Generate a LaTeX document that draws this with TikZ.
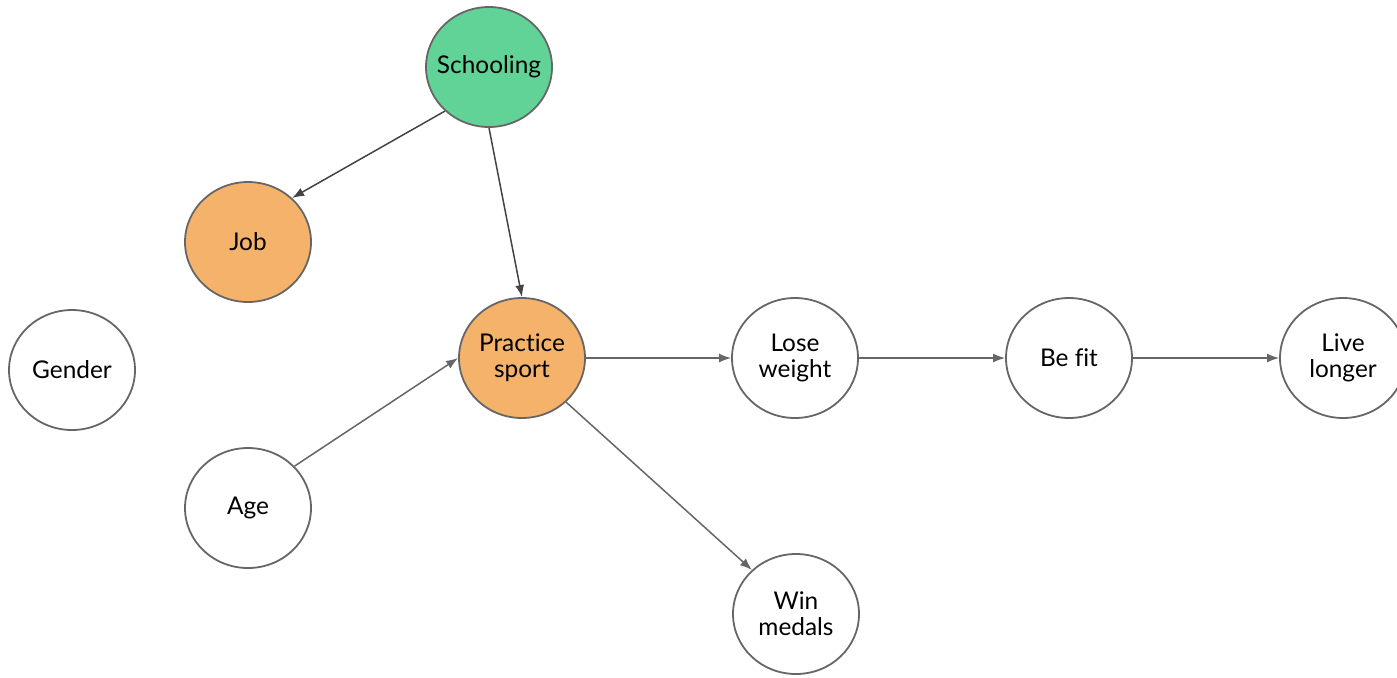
\documentclass[tikz,border=0pt]{standalone}
\usepackage{fontspec}
\setmainfont{Lato}[Ligatures={NoCommon}]
\usetikzlibrary{shapes.geometric,arrows.meta}
\definecolor{greenfill}{HTML}{62D396}
\definecolor{orangefill}{HTML}{F5B26B}
\definecolor{edgegray}{HTML}{666666}
\definecolor{darkline}{HTML}{444444}
\begin{document}
\begin{tikzpicture}[x=0.5pt,y=-0.5pt,
  var/.style={ellipse,draw=edgegray,line width=0.9pt,fill=white,
    minimum width=63pt,minimum height=60pt,inner xsep=-6pt,inner ysep=0pt,
    align=center,font=\fontsize{12.2}{13}\selectfont},
  link/.style={draw=edgegray,line width=0.75pt,-{Latex[length=6pt,width=4.5pt]}},
  darklink/.style={link,draw=darkline}]
  \useasboundingbox (0,0) rectangle (1397,677);
  % variables
  \node[var,fill=greenfill]  (school)  at (489,67)   {Schooling};
  \node[var,fill=orangefill] (job)     at (248,242)  {Job};
  \node[var]                 (gender)  at (72,370)   {Gender};
  \node[var,fill=orangefill] (sport)   at (522,358)  {Practice\\sport};
  \node[var]                 (age)     at (248,508)  {Age};
  \node[var]                 (weight)  at (795,358)  {Lose\\weight};
  \node[var]                 (fit)     at (1069,358) {Be fit};
  \node[var]                 (longer)  at (1343,358) {Live\\longer};
  \node[var]                 (medals)  at (796,614)  {Win\\medals};
  % causal links
  \draw[darklink] (school.225) -- (job.45);
  \draw[darklink] (school.south) -- (sport.north);
  \draw[link] (age.42) -- (sport.west);
  \draw[link] (sport.east) -- (weight.west);
  \draw[link] (weight.east) -- (fit.west);
  \draw[link] (fit.east) -- (longer.west);
  \draw[link] (sport.-45) -- (medals.135);
\end{tikzpicture}
\end{document}
